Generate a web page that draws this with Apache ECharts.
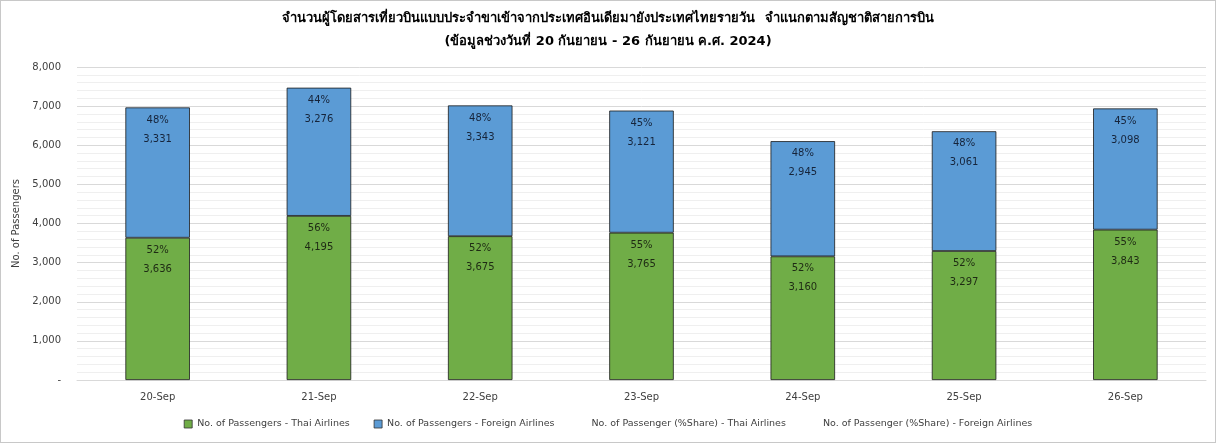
<!DOCTYPE html>
<html>
<head>
<meta charset="utf-8">
<script src="https://cdn.jsdelivr.net/npm/echarts@6/dist/echarts.min.js"></script>
<style>
html,body{margin:0;padding:0;background:#fff;}
#c{width:1216px;height:443px;box-sizing:border-box;border:1px solid #c8c8c8;}
</style>
</head>
<body>
<div id="c"></div>
<script>
const categories = ['20-Sep','21-Sep','22-Sep','23-Sep','24-Sep','25-Sep','26-Sep'];
const thaiPassengers = [3636, 4195, 3675, 3765, 3160, 3297, 3843];
const foreignPassengers = [3331, 3276, 3343, 3121, 2945, 3061, 3098];
const thaiShare = [52, 56, 52, 55, 52, 52, 55];
const foreignShare = [48, 44, 48, 45, 48, 48, 45];
const yTicks = {min: 0, max: 8000, interval: 1000};
const titleLines = ['จำนวนผู้โดยสารเที่ยวบินแบบประจำขาเข้าจากประเทศอินเดียมายังประเทศไทยรายวัน  จำแนกตามสัญชาติสายการบิน', '(ข้อมูลช่วงวันที่ 20 กันยายน - 26 กันยายน ค.ศ. 2024)'];
const seriesNames = ['No. of Passengers - Thai Airlines','No. of Passengers - Foreign Airlines','No. of Passenger (%Share) - Thai Airlines','No. of Passenger (%Share) - Foreign Airlines'];

const FONT = 'Tahoma, "DejaVu Sans", "Noto Sans", sans-serif';
const fmt = v => v.toLocaleString('en-US');

const chart = echarts.init(document.getElementById('c'), null, {renderer: 'canvas'});
function barLabel(shares, color) {
  return {
    show: true,
    position: 'insideTop',
    distance: 3,
    color: color,
    fontSize: 10,
    fontFamily: FONT,
    lineHeight: 19,
    formatter: p => shares[p.dataIndex] + '%\n' + fmt(p.value)
  };
}
chart.setOption({
  animation: false,
  textStyle: {fontFamily: FONT},
  title: {
    text: titleLines[0] + '\n' + titleLines[1],
    left: 'center',
    top: 1,
    textStyle: {fontSize: 13, fontWeight: 'bold', color: '#000', lineHeight: 23, fontFamily: FONT}
  },
  legend: {
    bottom: 8,
    left: 'center',
    itemWidth: 8,
    itemHeight: 8,
    itemGap: 24,
    textStyle: {fontSize: 9.5, color: '#404040', fontFamily: FONT},
    data: [
      {name: seriesNames[0], icon: 'rect', itemStyle: {color: '#70AD47', borderColor: '#333', borderWidth: 0.8}},
      {name: seriesNames[1], icon: 'rect', itemStyle: {color: '#5B9BD5', borderColor: '#333', borderWidth: 0.8}},
      {name: seriesNames[2], icon: 'rect', itemStyle: {opacity: 0}},
      {name: seriesNames[3], icon: 'rect', itemStyle: {opacity: 0}}
    ]
  },
  grid: {left: 76, right: 9, top: 66, bottom: 62},
  xAxis: {
    type: 'category',
    data: categories,
    axisTick: {show: false},
    axisLine: {lineStyle: {color: '#d9d9d9'}},
    axisLabel: {fontSize: 10, color: '#404040', margin: 12, fontFamily: FONT}
  },
  yAxis: [{
    type: 'value',
    min: yTicks.min, max: yTicks.max, interval: yTicks.interval,
    name: 'No. of Passengers',
    nameLocation: 'middle',
    nameGap: 45,
    nameTextStyle: {fontSize: 10, color: '#404040', fontFamily: FONT},
    axisLabel: {fontSize: 10, color: '#404040', margin: 16, fontFamily: FONT,
      formatter: v => v === 0 ? '-' : fmt(v)},
    axisLine: {show: false},
    axisTick: {show: false},
    splitLine: {lineStyle: {color: '#d9d9d9'}},
    minorTick: {show: false, splitNumber: 5},
    minorSplitLine: {show: true, lineStyle: {color: '#efefef'}}
  }, {
    type: 'value', min: 0, max: 100, show: false, splitLine: {show: false}
  }],
  series: [
    {
      name: seriesNames[0], type: 'bar', stack: 'total', barWidth: '40%',
      data: thaiPassengers,
      itemStyle: {color: '#70AD47', borderColor: '#1a1a1a', borderWidth: 0.8},
      label: barLabel(thaiShare, '#1e2a14')
    },
    {
      name: seriesNames[1], type: 'bar', stack: 'total', barWidth: '40%',
      data: foreignPassengers,
      itemStyle: {color: '#5B9BD5', borderColor: '#1a1a1a', borderWidth: 0.8},
      label: barLabel(foreignShare, '#16243a')
    },
    {
      name: seriesNames[2], type: 'line', yAxisIndex: 1, data: thaiShare,
      symbol: 'none', lineStyle: {opacity: 0}, itemStyle: {opacity: 0}, silent: true, z: 0
    },
    {
      name: seriesNames[3], type: 'line', yAxisIndex: 1, data: foreignShare,
      symbol: 'none', lineStyle: {opacity: 0}, itemStyle: {opacity: 0}, silent: true, z: 0
    }
  ]
});
</script>
</body>
</html>
